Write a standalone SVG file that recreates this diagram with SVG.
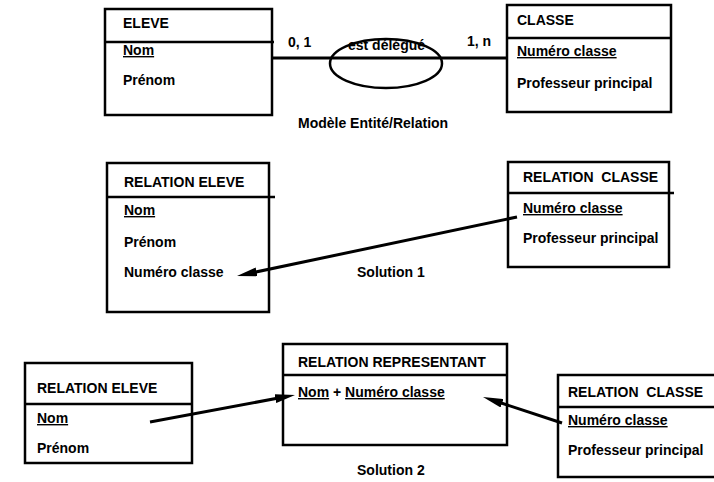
<svg xmlns="http://www.w3.org/2000/svg" width="714" height="482" viewBox="0 0 714 482">
<style>
.box{fill:#fff;stroke:#000;stroke-width:2.5}
.sep{stroke:#000;stroke-width:2.5}
.ln{stroke:#000;stroke-width:3;fill:none}
text{font-family:"Liberation Sans",Arial,sans-serif;font-weight:bold;font-size:14px;fill:#000}
.u{text-decoration:underline}
</style>
<defs>
<marker id="ah" viewBox="0 0 20 9" refX="10" refY="4.5" markerWidth="20" markerHeight="9" markerUnits="userSpaceOnUse" orient="auto">
<path d="M0,0 L20,4.5 L0,9 Z" fill="#000"/>
</marker>
</defs>
<rect width="714" height="482" fill="#fff"/>
<g id="eleve">
<rect class="box" x="105" y="9" width="167" height="106"/>
<line class="sep" x1="105" y1="42" x2="274" y2="42"/>
<text x="123" y="28">ELEVE</text>
<text x="123" y="55" class="u">Nom</text>
<text x="123" y="85">Prénom</text>
</g>
<g id="est-delegue">
<ellipse cx="386" cy="63.5" rx="56" ry="24.5" fill="none" stroke="#000" stroke-width="2.5"/>
<text x="348" y="50">est délégué</text>
</g>
<g id="classe">
<rect class="box" x="507" y="5" width="164" height="107"/>
<line class="sep" x1="506" y1="38" x2="671" y2="38"/>
<text x="517" y="25">CLASSE</text>
<text x="517" y="56" class="u">Numéro classe</text>
<text x="517" y="88">Professeur principal</text>
</g>
<g id="labels">
<text x="288" y="47">0, 1</text>
<text x="467" y="46">1, n</text>
<text x="298" y="128">Modèle Entité/Relation</text>
<text x="357" y="277">Solution 1</text>
<text x="357" y="475">Solution 2</text>
</g>
<g id="relation-eleve-1">
<rect class="box" x="107" y="163" width="162" height="149"/>
<line class="sep" x1="107" y1="197" x2="275" y2="197"/>
<text x="124" y="187">RELATION ELEVE</text>
<text x="124" y="215" class="u">Nom</text>
<text x="124" y="247">Prénom</text>
<text x="124" y="277">Numéro classe</text>
</g>
<g id="relation-classe-1">
<rect class="box" x="508" y="162" width="161" height="105"/>
<line class="sep" x1="508" y1="193" x2="674" y2="193"/>
<text x="523" y="182" xml:space="preserve">RELATION  CLASSE</text>
<text x="523" y="213" class="u">Numéro classe</text>
<text x="523" y="243">Professeur principal</text>
</g>
<g id="relation-eleve-2">
<rect class="box" x="25" y="363" width="167" height="100"/>
<line class="sep" x1="25" y1="404" x2="193" y2="404"/>
<text x="37" y="393">RELATION ELEVE</text>
<text x="37" y="423" class="u">Nom</text>
<text x="37" y="453">Prénom</text>
</g>
<g id="relation-representant">
<rect class="box" x="283" y="344" width="224" height="101"/>
<line class="sep" x1="283" y1="375" x2="507" y2="375"/>
<text x="298" y="367">RELATION REPRESENTANT</text>
<text x="298" y="397"><tspan class="u">Nom</tspan> + <tspan class="u">Numéro classe</tspan></text>
</g>
<g id="relation-classe-2">
<rect class="box" x="558" y="375" width="162" height="102"/>
<line class="sep" x1="558" y1="407" x2="720" y2="407"/>
<text x="568" y="397" xml:space="preserve">RELATION  CLASSE</text>
<text x="568" y="425" class="u">Numéro classe</text>
<text x="568" y="455">Professeur principal</text>
</g>
<g id="connectors">
<line class="ln" x1="272" y1="58" x2="507" y2="58"/>
<line class="ln" x1="517" y1="217" x2="246.8" y2="273.9" marker-end="url(#ah)"/>
<line class="ln" x1="150" y1="422" x2="285.2" y2="396.8" marker-end="url(#ah)"/>
<line class="ln" x1="562" y1="423" x2="492.5" y2="400.1" marker-end="url(#ah)"/>
</g>
</svg>
